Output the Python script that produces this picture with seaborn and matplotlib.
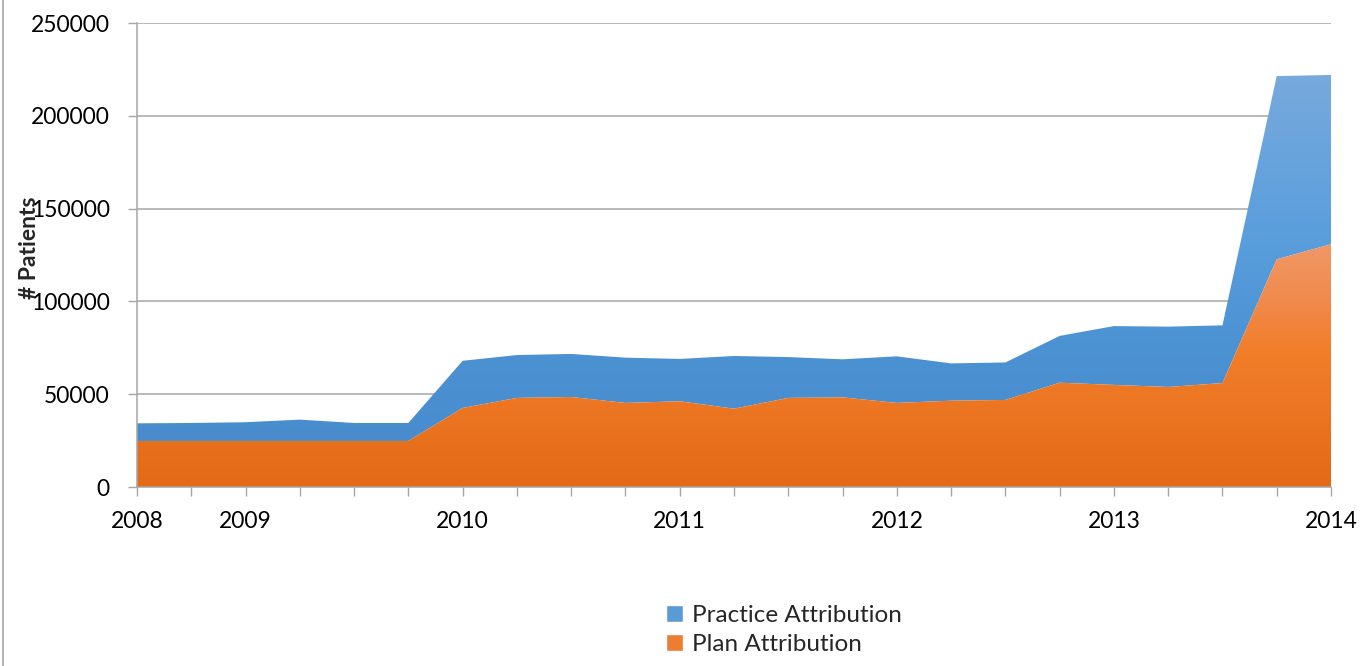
import numpy as np
import pandas as pd
import matplotlib
matplotlib.use("Agg")
import matplotlib.pyplot as plt
from matplotlib.colors import LinearSegmentedColormap
from matplotlib.patches import Patch
import seaborn as sns

# Dados (23 pontos no eixo de categorias)
rotulos = ['2008', '', '2009', '', '', '', '2010', '', '', '', '2011', '', '', '', '2012',
           '', '', '', '2013', '', '', '', '2014']
plan = [24800, 24800, 24800, 24800, 24800, 24800, 42600, 48000, 48500, 45300, 46200, 42200,
        48000, 48300, 45300, 46500, 46900, 56200, 55000, 53900, 56000, 122700, 130800]
total = [34300, 34500, 34900, 36300, 34500, 34500, 68000, 71100, 71700, 69700, 69000, 70600,
         70000, 68800, 70400, 66600, 67100, 81400, 86700, 86400, 87100, 221400, 222000]
practice = [t - p for t, p in zip(total, plan)]

df = pd.DataFrame({'pos': range(len(rotulos)), 'Plan Attribution': plan,
                   'Practice Attribution': practice})
df['Total'] = df['Plan Attribution'] + df['Practice Attribution']

sns.set_theme(style="white")
plt.rcParams['font.family'] = ['Lato', 'DejaVu Sans']

fig = plt.figure(figsize=(13.72, 6.66), dpi=100)
ax = fig.add_axes([137 / 1372, 1 - 487 / 666, (1331 - 137) / 1372, (487 - 23) / 666])

cinza = '#A6A6A6'
ax.set_xlim(0, len(rotulos) - 1)
ax.set_ylim(0, 250000)
ax.set_yticks(range(0, 250001, 50000))
ax.yaxis.grid(True, color=cinza, linewidth=1.1)
ax.set_axisbelow(True)

# gradientes de preenchimento (estilo Excel)
cmap_laranja = LinearSegmentedColormap.from_list(
    'lar', [(0, '#E36A17'), (0.55, '#F27E2A'), (0.75, '#F08A4E'), (1, '#F09A6A')])
cmap_azul = LinearSegmentedColormap.from_list(
    'azu', [(0, '#4689CB'), (0.35, '#4C93D4'), (0.6, '#5A9EDC'), (1, '#78AADC')])


def area_gradiente(y_base, y_topo, cmap, ymax):
    poly = ax.fill_between(df['pos'], y_base, y_topo, color='none', linewidth=0)
    grad = np.linspace(0, 1, 256).reshape(-1, 1)
    img = ax.imshow(grad, extent=[0, len(rotulos) - 1, 0, ymax], origin='lower',
                    aspect='auto', cmap=cmap, zorder=2)
    img.set_clip_path(poly.get_paths()[0], transform=ax.transData)


area_gradiente(df['Plan Attribution'], df['Total'], cmap_azul, 225000)
area_gradiente(0, df['Plan Attribution'], cmap_laranja, 135000)
ax.set_ylim(0, 250000)
ax.set_xlim(0, len(rotulos) - 1)

ax.set_xticks(df['pos'])
ax.set_xticklabels(rotulos)
ax.tick_params(axis='both', labelsize=16.5, colors=cinza, labelcolor='black',
               length=6.5, width=1, direction='out')
ax.tick_params(axis='x', pad=11)
ax.tick_params(axis='y', pad=13)
ax.xaxis.set_ticks_position('bottom')
ax.yaxis.set_ticks_position('left')

for lado in ['top', 'right']:
    ax.spines[lado].set_visible(False)
for lado in ['left', 'bottom']:
    ax.spines[lado].set_color(cinza)
    ax.spines[lado].set_linewidth(1.1)
    ax.spines[lado].set_zorder(3)

fig.text(30 / 1372, 1 - 248 / 666, '# Patients', rotation=90, fontsize=16.5,
         fontweight='bold', ha='center', va='center')

# borda do gráfico
fig.add_artist(plt.Line2D([3.5 / 1372, 3.5 / 1372], [0, 1], color=cinza, linewidth=1.2))

handles = [Patch(facecolor='#5B9BD5', label='Practice Attribution'),
           Patch(facecolor='#ED7D31', label='Plan Attribution')]
fig.legend(handles=handles, loc='center left', bbox_to_anchor=(666 / 1372, 1 - 630 / 666),
           frameon=False, fontsize=17.5, handlelength=0.7, handleheight=0.7,
           handletextpad=0.35, labelspacing=0.3, borderaxespad=0, borderpad=0)

fig.savefig('out.png', dpi=100)
